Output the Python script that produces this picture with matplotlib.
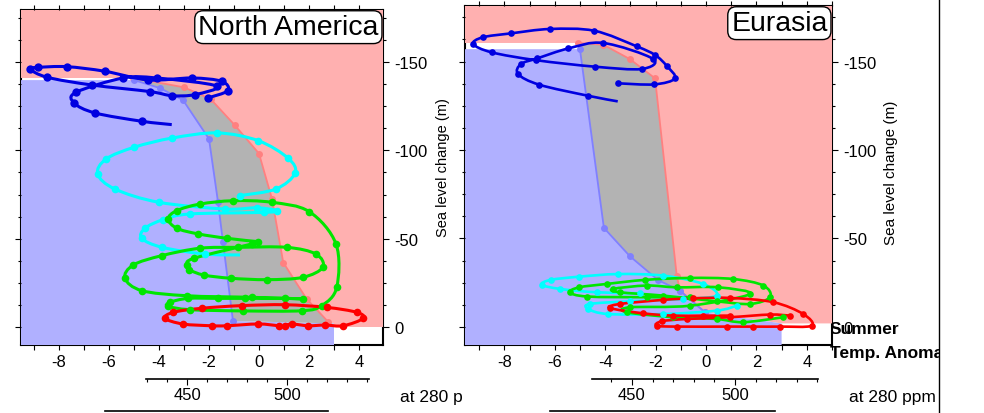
import matplotlib
matplotlib.use("Agg")
import matplotlib.pyplot as plt
import numpy as np
from matplotlib.lines import Line2D
from matplotlib.patches import PathPatch
from matplotlib.path import Path
from matplotlib.ticker import FixedLocator, MultipleLocator

plt.rcParams["font.family"] = ["Liberation Sans", "DejaVu Sans"]
plt.rcParams["axes.unicode_minus"] = False

W, H = 984, 414

# ---- North America: ice-sheet stability boundaries (T anomaly, sea level) ----
NA_WARM_T = [-5.03, -3.00, -1.93, -0.97, 0.00, 0.52, 0.97, 1.90, 2.76, 3.00]
NA_WARM_SL = [-141.0, -135.7, -129.0, -114.3, -98.2, -72.5, -36.5, -16.0, -3.0, -2.0]
NA_COLD_T = [-5.00, -3.96, -3.04, -2.00, -1.64, -1.44, -1.04, 3.00]
NA_COLD_SL = [-139.8, -135.3, -128.5, -106.5, -70.8, -48.0, -3.4, -2.0]

# ---- North America trajectories ----
NA_BLUE_T = [-2.05, -1.25, -1.49, -2.69, -4.43, -6.16, -7.69, -8.83, -9.16, -8.47, -6.67,
             -4.36, -3.49, -2.56, -1.70, -4.09, -5.43, -7.32, -7.39, -6.56, -4.69, -3.49]
NA_BLUE_SL = [-129.7, -133.8, -139.1, -141.0, -139.9, -144.8, -147.4, -147.0, -146.1, -141.4,
              -137.0, -133.3, -131.0, -131.6, -136.5, -141.0, -141.0, -132.9, -126.8, -121.2,
              -116.5, -114.6]
NA_CYAN_T = [-0.76, 0.67, 1.44, 1.17, -0.03, -1.67, -3.47, -4.99, -6.12, -6.45, -5.76, -4.00,
             -1.36, -0.09, 0.71, 0.20, -2.76, -3.83, -4.56, -4.69, -3.87, -2.16, -0.76]
NA_CYAN_SL = [-74.4, -78.1, -87.0, -95.5, -105.5, -109.9, -107.0, -101.8, -95.1, -86.6, -78.1,
              -70.6, -66.8, -67.5, -65.9, -64.9, -64.0, -60.8, -55.9, -50.2, -45.1, -41.3, -40.8]
NA_GREEN_T = [-0.03, -1.27, -2.43, -3.29, -3.63, -3.29, -2.36, -1.03, 0.51, 2.01, 3.08, 3.11,
              2.51, 1.71, -0.63, -2.76, -3.63, -3.56, -2.83, -1.63, -0.56, 1.04, 1.77, -0.29,
              -2.89, -4.69, -5.36, -5.03, -3.89, -2.36, -0.83, 1.11, 2.28, 2.55, 1.75, 0.33,
              -1.13, -2.20, -2.79, -2.87, -2.60, -0.29]
NA_GREEN_SL = [-48.3, -50.2, -52.7, -55.9, -61.2, -65.9, -69.6, -71.5, -70.6, -65.3, -47.0,
               -22.5, -12.1, -9.2, -9.1, -9.8, -11.7, -14.0, -16.2, -16.2, -16.2, -16.2, -15.9,
               -16.8, -17.7, -20.6, -27.6, -35.1, -40.4, -44.6, -45.1, -45.1, -41.3, -33.8,
               -28.1, -26.8, -27.6, -29.4, -32.4, -35.1, -38.9, -47.0]
NA_RED_T = [0.78, -0.03, -1.29, -1.89, -3.05, -3.76, -3.43, -2.29, -0.69, 1.04, 2.71, 3.91,
            4.17, 3.37, 2.64, 1.97, 1.31, 1.04]
NA_RED_SL = [-0.7, -1.7, -0.7, -0.7, -1.7, -4.9, -8.3, -10.6, -12.1, -12.6, -11.1, -8.3, -4.9,
             -0.7, -1.1, -0.7, -1.7, -0.7]

# ---- Eurasia: boundaries ----
EU_WARM_T = [-5.07, -4.07, -3.02, -2.02, -1.16, -1.03, -0.04, 3.00]
EU_WARM_SL = [-160.5, -159.5, -151.4, -140.5, -29.0, -20.5, -8.3, -2.0]
EU_COLD_T = [-5.00, -4.05, -3.02, -1.90, -1.03, -0.04, 3.00]
EU_COLD_SL = [-157.0, -56.0, -40.0, -26.5, -20.5, -8.3, -2.0]

# ---- Eurasia trajectories ----
EU_BLUE_T = [-3.48, -2.05, -1.23, -1.56, -2.02, -2.75, -4.43, -6.19, -7.75, -8.86, -9.23, -8.50,
             -6.75, -4.40, -2.55, -2.10, -4.07, -5.46, -6.69, -7.34, -7.45, -6.61, -4.69, -3.50]
EU_BLUE_SL = [-137.7, -137.1, -140.5, -147.6, -153.7, -158.6, -167.4, -168.4, -165.9, -163.7,
              -159.9, -155.2, -150.8, -147.1, -145.8, -151.5, -160.5, -157.4, -151.8, -148.6,
              -142.9, -136.9, -130.7, -127.5]
EU_CYAN_T = [-2.62, -4.34, -5.79, -6.52, -6.16, -5.03, -3.48, -1.69, -0.11, 0.42, -0.90, -3.02,
             -4.60, -4.67, -3.88, -1.69, 0.42, 1.22]
EU_CYAN_SL = [-19.0, -19.6, -21.5, -23.9, -26.6, -28.4, -29.9, -29.0, -24.3, -17.7, -15.8, -14.5,
              -13.0, -10.2, -7.3, -7.3, -9.2, -12.0]
EU_GREEN_T = [-0.63, -2.35, -4.71, -5.40, -5.03, -3.94, -2.42, -0.63, 1.08, 2.28, 2.54, 1.75,
              0.42, -1.69, -3.41, -3.68, -2.35, -1.16, 0.49, 1.75, -0.63, -3.02, -3.15, -1.30,
              0.42, 1.48, 3.07]
EU_GREEN_SL = [-16.8, -16.8, -17.2, -19.6, -22.4, -24.3, -26.6, -27.7, -27.1, -23.4, -16.8, -13.0,
               -14.5, -17.7, -19.6, -21.5, -23.4, -22.4, -22.4, -18.6, -12.0, -11.1, -8.3, -5.5,
               -4.5, -2.7, -5.5]
EU_RED_T = [0.95, -0.11, -1.30, -2.49, -3.81, -3.41, -1.69, -0.50, 0.95, 2.67, 3.86, 4.19, 2.94,
            1.88, 0.82, -1.16, -1.96, -1.76, -0.77, 0.95, 2.54, 3.33]
EU_RED_SL = [-6.4, -6.4, -6.4, -7.7, -10.7, -13.0, -15.3, -16.2, -16.4, -14.0, -7.3, -0.7, -0.2,
             -0.2, -0.2, -0.2, -0.7, -3.2, -4.5, -5.5, -7.0, -6.4]

X_TICKS = [-8, -6, -4, -2, 0, 2, 4]
Y_TICKS = [-150, -100, -50, 0]
CO2_TICKS = [450, 500]

PINK = "#ffb0b0"
LAVENDER = "#b0b0ff"
GRAY = "#b3b3b3"


def rect(left, top, right, bottom):
    return [left / W, 1 - bottom / H, (right - left) / W, (bottom - top) / H]


def smooth_path(xs, ys):
    # Catmull-Rom through the read points, drawn as cubic Bezier segments.
    pts = np.column_stack([xs, ys])
    ext = np.vstack([pts[0], pts, pts[-1]])
    verts = [pts[0]]
    codes = [Path.MOVETO]
    for i in range(1, len(ext) - 2):
        p0, p1, p2, p3 = ext[i - 1], ext[i], ext[i + 1], ext[i + 2]
        verts += [p1 + (p2 - p0) / 6, p2 - (p3 - p1) / 6, p2]
        codes += [Path.CURVE4] * 3
    return Path(verts, codes)


def trajectory(ax, t, sl, color, lw, ms, last_marker=True):
    ax.add_patch(PathPatch(smooth_path(t, sl), fill=False, edgecolor=color, lw=lw, zorder=3))
    n = len(t) if last_marker else len(t) - 1
    ax.plot(t[:n], sl[:n], "o", color=color, ms=ms, mec="none", zorder=4)


def panel(ax, xlim, ylim, warm, cold, floor, title, bms):
    xmin, xmax = xlim
    bottom, top = ylim
    wt, ws = warm
    ct, cs = cold
    # warm (ice-free) region, cold (glaciated) region and the bistable band
    ax.fill([xmin, xmin] + wt + [wt[-1], xmax, xmax],
            [top, ws[0]] + ws + [floor, floor, top], color=PINK, lw=0, zorder=1)
    ax.fill([xmin] + ct + [ct[-1], xmin],
            [cs[0]] + cs + [bottom, bottom], color=LAVENDER, lw=0, zorder=1)
    ax.fill(ct + wt[::-1], cs + ws[::-1], color=GRAY, lw=0, zorder=1)
    ax.plot(wt[:-1], ws[:-1], "-o", color="#ff8080", lw=1.3, ms=bms, mec="none", zorder=2)
    ax.plot(ct[:-1], cs[:-1], "-o", color="#8080ff", lw=1.3, ms=bms, mec="none", zorder=2)

    ax.set_xlim(xmin, xmax)
    ax.set_ylim(bottom, top)
    ax.xaxis.set_major_locator(FixedLocator(X_TICKS))
    ax.xaxis.set_minor_locator(MultipleLocator(1))
    ax.yaxis.set_major_locator(FixedLocator(Y_TICKS))
    ax.yaxis.set_minor_locator(MultipleLocator(12.5))
    ax.tick_params(which="both", direction="out", top=True, bottom=True, left=True, right=True,
                   labelleft=False, labelright=True, labeltop=False, labelsize=12, width=0.8)
    ax.tick_params(axis="x", which="both", length=3.8, pad=3)
    ax.tick_params(axis="y", which="major", length=4, pad=4)
    ax.tick_params(axis="y", which="minor", length=2.5)
    for s in ax.spines.values():
        s.set_linewidth(1.5)
        s.set_zorder(0.5)
    ax.annotate(title, xy=(1, 1), xycoords="axes fraction", xytext=(-3.2, -3.0),
                textcoords="offset points", ha="right", va="top", fontsize=20.5, zorder=6,
                bbox=dict(boxstyle="round,pad=0.12,rounding_size=0.3", fc="white", ec="black",
                          lw=1))


def co2_axis(fig, left, right, y, lim, zorder):
    cax = fig.add_axes(rect(left, y - 1, right, y), zorder=zorder)
    cax.patch.set_visible(False)
    for name in ("top", "left", "right"):
        cax.spines[name].set_visible(False)
    cax.spines["bottom"].set_linewidth(1.2)
    cax.set_yticks([])
    cax.set_xlim(*lim)
    cax.xaxis.set_major_locator(FixedLocator(CO2_TICKS))
    cax.xaxis.set_minor_locator(MultipleLocator(10))
    cax.tick_params(axis="x", which="major", direction="out", length=4, width=0.8,
                    labelsize=12, pad=2)
    cax.tick_params(axis="x", which="minor", direction="out", length=2.5, width=0.8)
    return cax


def bare_line(fig, left, right, y, zorder):
    lax = fig.add_axes(rect(left, y - 1, right, y), zorder=zorder)
    lax.patch.set_visible(False)
    for name in ("top", "left", "right"):
        lax.spines[name].set_visible(False)
    lax.spines["bottom"].set_linewidth(1.2)
    lax.set_yticks([])
    lax.set_xticks([])
    return lax


fig = plt.figure(figsize=(W / 100, H / 100), dpi=100)

# ---------------- North America ----------------
ax_na = fig.add_axes(rect(21, 11, 383, 346), zorder=0.5)
panel(ax_na, (-9.52, 4.96), (10.2, -179.5), (NA_WARM_T, NA_WARM_SL), (NA_COLD_T, NA_COLD_SL),
      0.0, "North America", 5.0)
trajectory(ax_na, NA_BLUE_T, NA_BLUE_SL, "#0000e0", 2.2, 6.0, last_marker=False)
trajectory(ax_na, NA_CYAN_T, NA_CYAN_SL, "#00ffff", 2.2, 5.5, last_marker=False)
trajectory(ax_na, NA_GREEN_T, NA_GREEN_SL, "#00e600", 2.2, 5.5)
trajectory(ax_na, NA_RED_T, NA_RED_SL, "#ff0000", 2.2, 5.5)
ax_na.text(1.1657, 0.534, "Sea level change (m)", transform=ax_na.transAxes, rotation=90,
           ha="center", va="center", fontsize=10.5)
ax_na.text(400 / W, 1 - 398 / H, "at 280 ppm", transform=fig.transFigure, ha="left",
           va="center", fontsize=12.5, clip_on=False)
co2_axis(fig, 146, 369, 380, (429.5, 541), 0.6)
bare_line(fig, 105, 328, 412, 0.6)

# ---------------- Eurasia (panel overlaps the first) ----------------
bg = fig.add_axes([463 / W, 0, (939 - 463) / W, 1], zorder=1)
bg.set_xticks([])
bg.set_yticks([])
for s in bg.spines.values():
    s.set_visible(False)
bg.set_facecolor("white")
bg.text(830 / W, 1 - 330 / H, "Summer", transform=fig.transFigure, ha="left", va="center",
        fontsize=12.5, fontweight="bold", clip_on=True)
bg.text(830 / W, 1 - 354 / H, "Temp. Anomaly", transform=fig.transFigure, ha="left",
        va="center", fontsize=12.5, fontweight="bold", clip_on=True)
bg.text(849 / W, 1 - 398 / H, "at 280 ppm", transform=fig.transFigure, ha="left", va="center",
        fontsize=12.5, clip_on=True)

ax_eu = fig.add_axes(rect(465, 7, 832, 346), zorder=2)
panel(ax_eu, (-9.56, 5.0), (10.2, -181.4), (EU_WARM_T, EU_WARM_SL), (EU_COLD_T, EU_COLD_SL),
      -2.0, "Eurasia", 5.0)
trajectory(ax_eu, EU_BLUE_T, EU_BLUE_SL, "#0000e0", 1.9, 4.8, last_marker=False)
trajectory(ax_eu, EU_CYAN_T, EU_CYAN_SL, "#00ffff", 1.9, 4.8)
trajectory(ax_eu, EU_GREEN_T, EU_GREEN_SL, "#00e600", 1.9, 4.8)
trajectory(ax_eu, EU_RED_T, EU_RED_SL, "#ff0000", 1.9, 4.8)
ax_eu.text(1.161, 0.510, "Sea level change (m)", transform=ax_eu.transAxes, rotation=90,
           ha="center", va="center", fontsize=11)
co2_axis(fig, 592, 818, 380, (430.6, 540.3), 3)
bare_line(fig, 550, 775, 412, 3)

fig.add_artist(Line2D([939 / W, 939 / W], [0, 1], transform=fig.transFigure, color="black",
                      lw=1, zorder=5))

fig.savefig("out.png", dpi=100)
